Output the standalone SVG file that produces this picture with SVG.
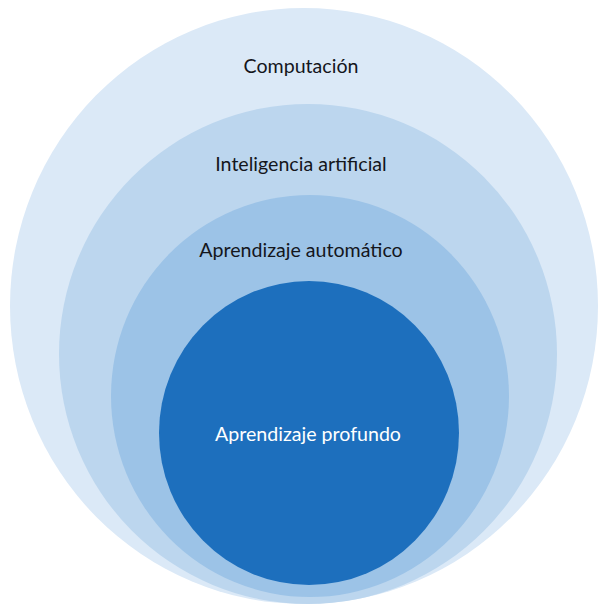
<svg xmlns="http://www.w3.org/2000/svg" width="600" height="611" viewBox="0 0 600 611">
  <style>
    .lbl { font-family: Lato, "Open Sans", "Liberation Sans", sans-serif; font-size: 19.6px; text-anchor: middle; fill: #14161c; }
    .lbl-in { fill: #ffffff; }
  </style>
  <rect width="600" height="611" fill="#ffffff"/>
  <g id="computacion">
    <ellipse cx="304" cy="306" rx="294" ry="298" fill="#dbe9f7"/>
    <text class="lbl" x="301" y="73">Computación</text>
  </g>
  <g id="inteligencia-artificial">
    <ellipse cx="308" cy="354" rx="249" ry="250" fill="#bcd6ee"/>
    <text class="lbl" x="301" y="171">Inteligencia artificial</text>
  </g>
  <g id="aprendizaje-automatico">
    <ellipse cx="310" cy="396" rx="199" ry="201" fill="#9cc3e7"/>
    <text class="lbl" x="301" y="257">Aprendizaje automático</text>
  </g>
  <g id="aprendizaje-profundo">
    <ellipse cx="309" cy="433" rx="150" ry="152" fill="#1d6fbd"/>
    <text class="lbl lbl-in" x="308" y="441">Aprendizaje profundo</text>
  </g>
</svg>
